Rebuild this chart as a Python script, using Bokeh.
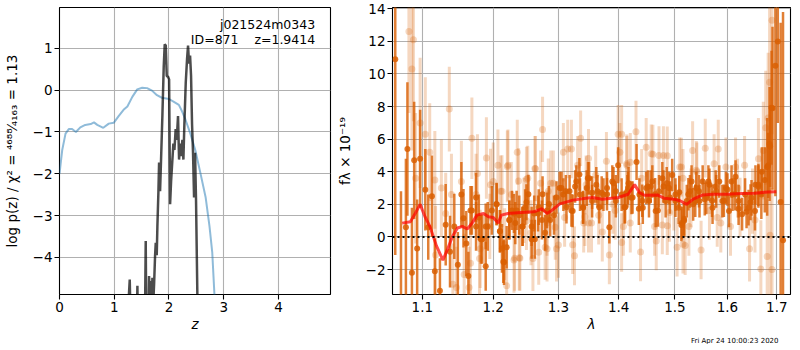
import numpy as np
from bokeh.plotting import figure
from bokeh.layouts import row
from bokeh.models import Range1d, FixedTicker, CustomJSTickFormatter, Label, Span, Title
from bokeh.embed import file_html
from bokeh.resources import INLINE

FONT = "DejaVu Sans"

# ---------------- left panel data: log p(z) ----------------
prior_z = [0.0, 0.05, 0.11, 0.17, 0.23, 0.30, 0.38, 0.47, 0.57, 0.63, 0.69, 0.80, 0.90, 0.99,
           1.08, 1.17, 1.24, 1.33, 1.42, 1.51, 1.60, 1.69, 1.78, 1.87, 2.00, 2.09, 2.18, 2.24,
           2.30, 2.39, 2.48, 2.57, 2.67, 2.74, 2.79, 2.83, 2.87]
prior_logp = [-2.0, -1.43, -1.04, -0.93, -0.93, -1.0, -0.89, -0.83, -0.81, -0.77, -0.83, -0.90,
              -0.80, -0.78, -0.62, -0.47, -0.39, -0.16, 0.02, 0.06, 0.05, -0.01, -0.12, -0.18,
              -0.21, -0.28, -0.35, -0.51, -0.70, -1.04, -1.43, -1.96, -2.57, -3.26, -3.88,
              -4.89, -5.6]

pz_z = [1.200, 1.223, 1.283, 1.314, 1.400, 1.423, 1.440, 1.550, 1.575, 1.590, 1.620, 1.636,
        1.650, 1.667, 1.680, 1.697, 1.712, 1.728, 1.746, 1.758, 1.776, 1.788, 1.807, 1.819,
        1.837, 1.855, 1.880, 1.904, 1.922, 1.941, 1.959, 1.983, 2.002, 2.020, 2.038, 2.062,
        2.080, 2.099, 2.122, 2.141, 2.165, 2.184, 2.202, 2.220, 2.245, 2.263, 2.281, 2.306,
        2.330, 2.348, 2.366, 2.385, 2.403, 2.421, 2.439, 2.458, 2.476, 2.494, 2.518, 2.540]
pz_logp = [-9.0, -6.0, -4.53, -6.5, -6.5, -4.68, -6.5, -7.0, -3.61, -6.5, -6.0, -4.45,
           -5.2, -4.57, -5.3, -4.49, -5.1, -4.64, -3.95, -3.65, -3.95, -3.26, -2.42, -1.73,
           -2.42, -1.66, -0.58, 0.57, 1.10, 1.07, 0.34, 0.32, 0.26, -2.73, -2.19, -1.66,
           -1.28, -1.43, -0.93, -1.19, -0.62, -1.66, -1.28, -1.58, -1.19, -1.66, -0.81, 0.18,
           0.75, 1.07, 0.64, 0.83, 0.34, -0.81, -1.50, -2.57, -1.50, -2.65, -4.89, -8.0]

left_xticks = [0, 1, 2, 3, 4]
left_yticks = [-4, -3, -2, -1, 0, 1]
field_name = "j021524m0343"
id_text = "ID=871\u00a0\u00a0\u00a0\u00a0z=1.9414"

# ---------------- right panel data: spectrum ----------------
model_lam = [1.0731, 1.0839, 1.0904, 1.0970, 1.1036, 1.1102, 1.1191, 1.1281, 1.1348, 1.1417,
             1.1485, 1.1554, 1.1623, 1.1693, 1.1763, 1.1858, 1.1929, 1.2001, 1.2073, 1.2121,
             1.2218, 1.2415, 1.2615, 1.2741, 1.2818, 1.2895, 1.3024, 1.3234, 1.3447, 1.3554,
             1.3718, 1.3994, 1.4163, 1.4276, 1.4362, 1.4449, 1.4681, 1.4799, 1.4977, 1.5097,
             1.5218, 1.5340, 1.5525, 1.5712, 1.5984, 1.6286, 1.6549, 1.6815, 1.6990]
model_flux = [0.85, 0.94, 1.44, 2.0, 1.24, 0.65, -0.53, -1.42, -0.73, 0.06,
              0.55, 0.65, 0.49, 0.85, 1.34, 1.44, 1.24, 1.20, 0.85, 1.34,
              1.44, 1.50, 1.54, 1.73, 1.44, 1.63, 2.03, 2.26, 2.38, 2.42,
              2.32, 2.42, 2.62, 3.21, 2.72, 2.56, 2.58, 2.38, 2.32, 2.22,
              2.0, 2.32, 2.58, 2.62, 2.62, 2.66, 2.68, 2.76, 2.78]

dark_lam = [1.064, 1.0715, 1.078, 1.080, 1.086, 1.089, 1.093, 1.097, 1.104, 1.108,
            1.113, 1.117, 1.124, 1.132, 1.138, 1.144, 1.149, 1.154, 1.157, 1.161,
            1.164, 1.169, 1.175, 1.179, 1.184, 1.189, 1.192, 1.198, 1.205, 1.210,
            1.213, 1.216, 1.220, 1.224, 1.228, 1.233, 1.239, 1.244, 1.248, 1.253,
            1.258, 1.263, 1.268, 1.274, 1.279, 1.285, 1.293, 1.297, 1.302, 1.308,
            1.313, 1.318, 1.323, 1.329, 1.335, 1.340, 1.346, 1.350, 1.355, 1.362,
            1.367, 1.374, 1.380, 1.384, 1.389, 1.395, 1.399, 1.405, 1.411, 1.416,
            1.422, 1.431, 1.436, 1.442, 1.448, 1.453, 1.459, 1.465, 1.471, 1.477,
            1.483, 1.489, 1.495, 1.501, 1.507, 1.513, 1.517, 1.522, 1.528, 1.534,
            1.540, 1.546, 1.552, 1.559, 1.565, 1.571, 1.578, 1.584, 1.590, 1.597,
            1.603, 1.610, 1.616, 1.622, 1.629, 1.635, 1.642, 1.648, 1.655, 1.662,
            1.668, 1.675, 1.680, 1.685, 1.691, 1.697, 1.702, 1.708, 1.713,
            1.167, 1.175, 1.182, 1.189, 1.205, 1.210, 1.215, 1.224, 1.231, 1.235,
            1.244, 1.250, 1.258, 1.262, 1.269, 1.275, 1.282, 1.287, 1.305, 1.312,
            1.321, 1.327, 1.334, 1.340, 1.348, 1.355, 1.364, 1.371, 1.380, 1.391,
            1.395, 1.410, 1.415, 1.417, 1.424, 1.435, 1.441, 1.451, 1.456, 1.464,
            1.469, 1.479, 1.485, 1.491, 1.501, 1.508, 1.512, 1.517, 1.525, 1.531,
            1.538, 1.545, 1.556, 1.563, 1.570, 1.577, 1.593, 1.600, 1.608, 1.615,
            1.622, 1.638, 1.646, 1.656, 1.662, 1.669, 1.682, 1.686, 1.689]
dark_flux = [10.9, -5.5, 0.6, 5.4, -2.2, 4.7, -0.7, 4.8, 2.9, 0.6,
             2.5, -2.1, -3.3, 0.75, -0.9, 0.65, -1.7, 2.6, 1.15, -0.4,
             -2.4, 1.63, 0.65, 1.2, -0.14, -1.8, 0.65, 1.63, 2.0, 0.35,
             -0.7, -1.55, -0.63, 1.04, 1.63, 0.85, 1.34, 0.65, 1.83, 2.62,
             0.65, -0.14, 1.44, 1.04, 0.26, 2.03, 1.34, 2.42, 3.0, 2.6,
             1.83, 2.8, 1.6, 3.4, 2.6, 1.83, 3.0, 3.6, 2.2, 3.2,
             1.83, 2.6, 3.0, 0.6, 3.4, 2.2, 4.4, 2.6, 1.83, 3.0,
             2.4, 4.6, 2.6, 1.8, 3.0, 2.2, 3.4, 1.6, 2.8, 3.6,
             2.2, 3.0, 3.8, 2.6, 1.8, 0.85, 1.0, 2.2, 2.8, 2.0,
             3.0, 2.2, 3.4, 2.4, 3.2, 1.8, 2.8, 3.4, 2.2, 3.0,
             1.6, 2.6, 3.7, 2.2, 1.4, 2.6, 1.8, 2.4, 1.6, 3.2,
             2.6, 3.5, 4.3, 5.7, 7.9, 10.5, 12.0, 2.15, -0.2,
             1.63, 2.42, -0.14, 0.65, 2.03, 0.35, -1.52, 1.04, 1.44, 1.63,
             0.65, 2.13, -0.14, 1.44, 1.83, 2.62, 1.63, 1.04, 3.0, 2.8,
             1.63, 3.1, 3.84, 1.79, 3.6, 2.72, 2.81, 2.72, 2.62, 3.3,
             2.81, 1.83, 2.81, 3.3, 2.42, 1.73, 2.22, 3.1, 3.1, 2.62,
             1.63, 3.1, 3.3, 2.42, 2.22, 2.75, 0.74, 1.1, 2.62, 3.4,
             2.22, 2.81, 2.32, 3.4, 2.22, 3.1, 2.22, 2.91, 3.4, 2.62,
             1.73, 1.54, 2.13, 3.2, 3.1, 4.0, 4.39, 5.57, 7.93]
dark_err = [12.0, 8.3, 4.2, 4.1, 4.0, 3.6, 3.0, 3.0, 2.5, 2.0,
            2.5, 2.0, 2.0, 2.5, 2.2, 2.0, 2.0, 2.0, 1.8, 2.0,
            1.5, 1.5, 1.5, 1.4, 1.5, 1.5, 1.5, 1.5, 1.3, 1.3,
            1.5, 1.4, 1.3, 1.2, 1.2, 1.3, 1.2, 1.2, 1.1, 1.2,
            1.2, 1.2, 1.1, 1.2, 1.1, 1.1, 1.2, 1.0, 1.0, 1.0,
            1.0, 1.0, 1.0, 1.0, 1.0, 1.0, 1.1, 1.0, 1.0, 1.1,
            1.0, 1.0, 1.0, 1.0, 1.0, 1.0, 1.1, 1.0, 1.0, 1.0,
            1.0, 1.1, 1.0, 1.0, 1.0, 1.0, 1.0, 1.0, 1.0, 1.0,
            1.0, 1.0, 1.0, 1.0, 1.0, 1.0, 1.0, 1.0, 1.0, 1.0,
            1.0, 1.0, 1.0, 1.0, 1.0, 1.0, 1.0, 1.0, 1.0, 1.0,
            1.0, 1.0, 1.0, 1.0, 1.0, 1.0, 1.1, 1.1, 1.2, 1.3,
            1.5, 2.0, 3.0, 3.5, 5.0, 8.0, 5.0, 11.0, 14.0,
            1.5, 1.5, 1.5, 1.4, 1.3, 1.3, 1.3, 1.2, 1.2, 1.2,
            1.2, 1.1, 1.2, 1.1, 1.1, 1.1, 1.1, 1.0, 1.0, 1.0,
            1.0, 1.0, 1.0, 1.0, 1.0, 1.0, 1.0, 1.0, 1.0, 1.0,
            1.0, 1.0, 1.0, 1.0, 1.0, 1.0, 1.0, 1.0, 1.0, 1.0,
            1.0, 1.0, 1.0, 1.0, 1.0, 1.0, 1.0, 1.0, 1.0, 1.0,
            1.0, 1.0, 1.0, 1.0, 1.0, 1.0, 1.0, 1.0, 1.0, 1.0,
            1.0, 1.0, 1.1, 1.2, 1.3, 1.5, 2.0, 2.5, 3.5]

light_lam = [1.082, 1.088, 1.086, 1.097, 1.104, 1.091, 1.110, 1.117, 1.118, 1.126,
             1.132, 1.137, 1.140, 1.142, 1.147, 1.154, 1.158, 1.169, 1.175, 1.181,
             1.190, 1.195, 1.200, 1.207, 1.211, 1.220, 1.222, 1.227, 1.232, 1.236,
             1.240, 1.246, 1.250, 1.252, 1.257, 1.263, 1.272, 1.275, 1.282, 1.288,
             1.295, 1.300, 1.308, 1.310, 1.315, 1.321, 1.323, 1.326, 1.331, 1.336,
             1.341, 1.345, 1.349, 1.354, 1.361, 1.372, 1.379, 1.384, 1.390, 1.394,
             1.399, 1.402, 1.405, 1.414, 1.420, 1.430, 1.438, 1.440, 1.448, 1.457,
             1.463, 1.471, 1.479, 1.486, 1.490, 1.498, 1.504, 1.509, 1.515, 1.519,
             1.530, 1.533, 1.541, 1.549, 1.557, 1.565, 1.574, 1.580, 1.582, 1.587,
             1.597, 1.606, 1.616, 1.620, 1.625, 1.634, 1.644, 1.650, 1.655, 1.662,
             1.667, 1.672, 1.677, 1.680, 1.682, 1.685, 1.690, 1.690, 1.686,
             1.349, 1.366, 1.343, 1.405, 1.408, 1.292, 1.282, 1.297, 1.515, 1.466,
             1.477, 1.414, 1.420, 1.486, 1.512, 1.460, 1.526, 1.540, 1.221, 1.264,
             1.238, 1.177, 1.196, 1.213, 1.250, 1.284, 1.217, 1.231, 1.239, 1.269,
             1.260, 1.279, 1.167, 1.180, 1.165]
light_flux = [12.6, 12.1, 10.3, 7.0, 6.3, 3.6, 5.2, 3.5, -1.1, 3.0,
              1.44, 7.85, 2.6, -2.9, -3.1, 3.4, -2.3, 6.06, 2.6, -0.73,
              4.85, 0.65, 3.4, 4.4, 2.8, -3.0, 4.4, 2.6, -1.3, 5.2,
              -1.3, 1.63, 1.0, 3.6, 0.26, 4.2, 3.3, 6.6, 0.85, 3.3,
              0.6, -0.5, 5.2, 1.2, 5.4, 5.4, -0.47, -1.16, 4.4, 6.06,
              0.85, 3.2, 4.82, 0.85, 3.8, 0.3, 4.64, -1.1, 2.0, 1.63,
              6.3, 5.2, 6.3, 4.4, 0.85, 6.46, -0.92, 3.6, 5.5, 5.1,
              0.65, 5.0, 5.0, 0.69, 1.5, 2.2, -0.63, 4.3, 3.6, -0.53,
              2.4, 5.3, 4.0, -0.8, 5.45, 1.63, 4.5, 1.2, 5.4, 0.85,
              4.3, 0.65, 4.3, 3.0, 1.83, 4.4, -0.73, 2.2, 1.04, 4.8,
              -1.97, 5.3, 6.7, -1.2, 7.3, 9.5, 13.3, -2.0, 0.1,
              0.85, 1.34, 1.24, -0.34, 0.65, 3.3, -0.73, -0.73, -0.44, -0.24,
              0.74, 4.49, 4.58, 4.98, 4.29, 5.08, 0.65, 4.09, 4.33, 4.19,
              3.44, 3.9, 3.21, 2.81, 3.54, 2.81, -0.44, -1.42, -1.28, -0.93,
              -1.32, -0.63, -1.62, -1.32, -3.1]
light_err = [5.0, 5.0, 5.0, 4.0, 3.5, 4.0, 3.0, 3.0, 3.0, 3.0,
             2.5, 2.6, 2.5, 2.5, 2.5, 2.5, 2.5, 2.5, 2.5, 2.4,
             2.5, 2.0, 2.4, 2.2, 2.2, 2.3, 2.2, 2.0, 2.0, 2.0,
             2.0, 2.0, 1.8, 2.0, 2.0, 2.0, 2.0, 2.0, 2.0, 2.0,
             2.0, 2.0, 1.8, 1.8, 1.8, 1.8, 1.8, 1.8, 1.8, 1.7,
             1.8, 1.8, 1.8, 1.8, 1.8, 1.8, 1.8, 1.8, 1.8, 1.8,
             1.8, 1.8, 1.8, 1.8, 1.8, 1.9, 1.8, 1.8, 1.8, 1.8,
             1.8, 1.8, 1.8, 1.8, 1.8, 1.8, 1.8, 1.8, 1.8, 1.8,
             1.8, 1.8, 1.8, 1.8, 1.8, 1.8, 1.8, 1.8, 1.8, 1.8,
             1.8, 1.8, 1.8, 1.8, 1.8, 1.8, 2.0, 2.0, 2.0, 2.5,
             3.0, 3.0, 3.5, 3.5, 4.0, 5.0, 7.0, 5.0, 4.0,
             1.8, 1.8, 1.8, 1.8, 1.8, 2.0, 2.0, 2.0, 1.8, 1.8,
             1.8, 1.8, 1.8, 1.8, 1.8, 1.8, 1.8, 1.8, 2.2, 2.0,
             2.0, 2.4, 2.2, 2.2, 2.0, 2.0, 2.2, 2.0, 2.0, 2.0,
             2.0, 2.0, 2.5, 2.4, 2.5]

right_xticks = [1.1, 1.2, 1.3, 1.4, 1.5, 1.6, 1.7]
right_yticks = [-2, 0, 2, 4, 6, 8, 10, 12, 14]
timestamp = "Fri Apr 24 10:00:23 2020"

ORANGE = "#d95f02"
yfmt = CustomJSTickFormatter(code="return (tick < 0 ? '\u2212' : '') + Math.abs(tick).toFixed(0);")

FRAME_H = 287
BOTTOM = 40


def style(p):
    p.outline_line_color = "black"
    p.outline_line_width = 1.1
    p.outline_line_alpha = 1.0
    p.background_fill_color = "white"
    p.border_fill_color = "white"
    for ax in p.axis:
        ax.axis_line_color = None
        ax.major_tick_out = 5
        ax.major_tick_in = 0
        ax.major_tick_line_width = 1.1
        ax.major_tick_line_color = "black"
        ax.minor_tick_line_color = None
        ax.major_label_text_font = FONT
        ax.major_label_text_font_size = "13.5px"
        ax.major_label_text_color = "black"
        ax.major_label_standoff = 2
        ax.axis_label_text_font = FONT
        ax.axis_label_text_font_size = "13.5px"
        ax.axis_label_text_color = "black"
        ax.axis_label_text_font_style = "normal"
    for g in p.grid:
        g.grid_line_color = "#b0b0b0"
        g.grid_line_width = 1.1
        g.grid_line_alpha = 1.0


# ---------------- left figure ----------------
p1 = figure(frame_width=271, frame_height=FRAME_H, min_border_left=54, min_border_right=3,
            min_border_top=7, min_border_bottom=BOTTOM,
            x_range=Range1d(0, 4.95), y_range=Range1d(-4.89, 1.98),
            output_backend="svg", toolbar_location=None, tools="")
style(p1)
p1.xaxis.ticker = FixedTicker(ticks=left_xticks)
p1.yaxis.ticker = FixedTicker(ticks=left_yticks)
p1.yaxis.formatter = yfmt
p1.xaxis.axis_label = "z"
p1.xaxis.axis_label_text_font_style = "italic"
p1.xaxis.axis_label_standoff = 1
p1.yaxis.axis_label = "log p(z) / \u03c7\u00b2 = \u2074\u2076\u2078\u2078\u2044\u2084\u2081\u2086\u2083 = 1.13"
p1.yaxis.axis_label_standoff = 10

p1.line(prior_z, prior_logp, line_color="#1f77b4", line_alpha=0.5, line_width=2)
p1.line(pz_z, pz_logp, line_color="black", line_alpha=0.7, line_width=2.5)

p1.add_layout(Label(x=4.67, y=1.57, text=field_name, text_align="right", text_baseline="middle",
                    text_font=FONT, text_font_size="12.5px", text_color="black"))
p1.add_layout(Label(x=4.67, y=1.225, text=id_text, text_align="right", text_baseline="middle",
                    text_font=FONT, text_font_size="12.5px", text_color="black"))

# ---------------- right figure ----------------
p2 = figure(frame_width=398, frame_height=FRAME_H, min_border_left=56, min_border_right=2,
            min_border_top=7, min_border_bottom=BOTTOM,
            x_axis_type="log",
            x_range=Range1d(1.0604, 1.7288), y_range=Range1d(-3.53, 14.08),
            output_backend="svg", toolbar_location=None, tools="")
style(p2)
p2.xaxis.ticker = FixedTicker(ticks=right_xticks)
p2.xaxis.formatter = CustomJSTickFormatter(code="return tick.toFixed(1);")
p2.yaxis.ticker = FixedTicker(ticks=right_yticks)
p2.yaxis.formatter = yfmt
p2.xaxis.axis_label = "\u03bb"
p2.xaxis.axis_label_text_font_style = "italic"
p2.xaxis.axis_label_standoff = 1
p2.yaxis.axis_label = "f\u03bb \u00d7 10\u207b\u00b9\u2079"
p2.yaxis.axis_label_standoff = 10

ll = np.array(light_lam)
lf = np.array(light_flux)
le = np.array(light_err)
p2.segment(x0=ll, y0=lf - le, x1=ll, y1=lf + le, line_color=ORANGE, line_alpha=0.25, line_width=3)
p2.scatter(ll, lf, size=7, fill_color=ORANGE, line_color=None, fill_alpha=0.25)

dl = np.array(dark_lam)
df = np.array(dark_flux)
de = np.array(dark_err)
p2.segment(x0=dl, y0=df - de, x1=dl, y1=df + de, line_color=ORANGE, line_alpha=0.8, line_width=2.5)
p2.scatter(dl, df, size=6, fill_color=ORANGE, line_color=None, fill_alpha=0.85)

p2.line(model_lam, model_flux, line_color="red", line_alpha=0.7, line_width=3)
p2.add_layout(Span(location=0, dimension="width", line_color="black", line_width=2,
                   line_dash="2 3"))

p2.add_layout(Title(text=timestamp, align="right", offset=12, standoff=0,
                    text_font=FONT, text_font_size="7px", text_font_style="normal",
                    text_color="black"), "below")

layout = row(p1, p2)
open("out.html", "w").write(file_html(layout, INLINE))
